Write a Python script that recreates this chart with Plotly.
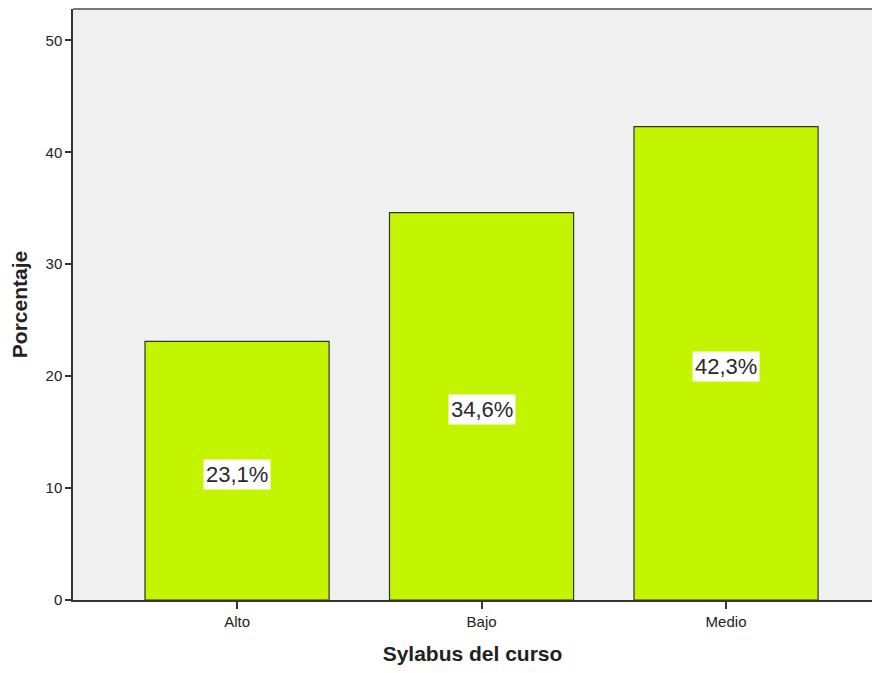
import plotly.graph_objects as go

categories = ["Alto", "Bajo", "Medio"]
values = [23.1, 34.6, 42.3]
labels = ["23,1%", "34,6%", "42,3%"]
y_ticks = [0, 10, 20, 30, 40, 50]

fig = go.Figure()
fig.add_trace(go.Bar(
    x=[0, 1, 2], y=values, width=0.753,
    marker=dict(color="#c4f500", line=dict(color="#333333", width=1.2)),
    hoverinfo="skip",
))

for i, (v, lab) in enumerate(zip(values, labels)):
    fig.add_annotation(
        x=i, y=v / 2 - 0.3, text=lab, showarrow=False,
        font=dict(family="Liberation Sans, Arial", size=22, color="#2a2a2a"),
        bgcolor="white", borderpad=2,
    )

fig.update_layout(
    width=864, height=657,
    margin=dict(l=65, r=0, t=1, b=65),
    paper_bgcolor="white", plot_bgcolor="#f0f0f0",
    showlegend=False,
    font=dict(family="Liberation Sans, Arial", color="#222222"),
    xaxis=dict(
        range=[-0.671, 2.597], tickmode="array", tickvals=[0, 1, 2], ticktext=categories,
        ticks="outside", ticklen=7, tickcolor="#333333", tickwidth=1.5,
        showline=True, linecolor="#333333", linewidth=1.5, showgrid=False, zeroline=False,
        tickfont=dict(size=15),
        title=dict(text="<b>Sylabus del curso</b>", font=dict(size=21), standoff=18),
    ),
    yaxis=dict(
        range=[0, 52.8], tickmode="array", tickvals=y_ticks,
        ticks="outside", ticklen=6, tickcolor="#333333", tickwidth=1.5,
        showline=True, linecolor="#333333", linewidth=1.5, showgrid=False, zeroline=False,
        tickfont=dict(size=15),
        title=dict(text="<b>Porcentaje</b>", font=dict(size=21), standoff=12),
    ),
)
fig.add_shape(type="line", xref="paper", yref="paper", x0=0, x1=1, y0=1, y1=1,
              line=dict(color="#777777", width=2))

fig.write_html("out.html")
